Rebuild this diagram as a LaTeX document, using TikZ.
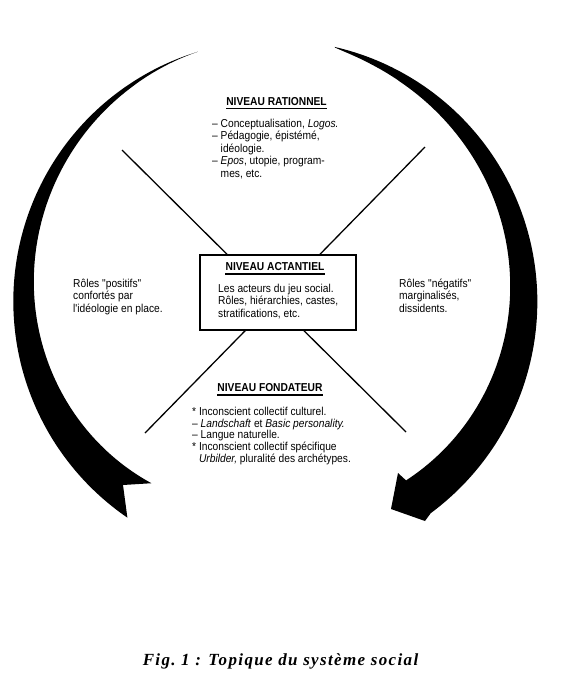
\documentclass[tikz,border=0pt]{standalone}
\usepackage{fontspec}
\newfontfamily\txtfont{Liberation Sans}[FakeStretch=0.89]
\newfontfamily\capfont{Liberation Serif}[LetterSpace=8]
\begin{document}
\begin{tikzpicture}[x=1pt,y=-1pt,
  body/.style={font={\txtfont\fontsize{11.5}{12.2}\selectfont}, inner sep=0pt, align=left, anchor=base west},
  head/.style={font={\txtfont\bfseries\fontsize{11.5}{12}\selectfont}, inner sep=0pt, anchor=base},
  uline/.style={line width=1.7pt},
  band/.style={fill=black},
  xline/.style={line width=1.3pt},
  boxframe/.style={draw, line width=1.8pt, fill=white, inner sep=0pt, minimum width=156pt, minimum height=75pt}
]
\useasboundingbox (0,0) rectangle (562,697);

% left band (tail, notched end)
\fill[band] plot[domain=0.002:1,samples=120] ({275+(260+3*\x)*cos(107+129*\x)},{300-(260+3*\x)*sin(107+129*\x)})
  -- (123,485)
  -- plot[domain=1:0.002,samples=120] ({275+(260+3*\x-42*pow(\x,1.2))*cos(107+129*\x)},{300-(260+3*\x-42*pow(\x,1.2))*sin(107+129*\x)})
  -- cycle;

% right band (with arrow head)
\fill[band] plot[domain=0.002:1,samples=120] ({275+(260+4*\x)*cos(77-131*\x)},{300-(260+4*\x)*sin(77-131*\x)})
  -- (425,521) -- (391,509) -- (398,473)
  -- plot[domain=1:0.002,samples=120] ({275+(260+4*\x-41*pow(\x,0.75))*cos(77-131*\x)},{300-(260+4*\x-41*pow(\x,0.75))*sin(77-131*\x)})
  -- cycle;

% the cross
\coordinate (ul) at (122,150);
\coordinate (lr) at (406,432);
\coordinate (ur) at (425,147);
\coordinate (ll) at (145,433);
\draw[xline] (ul) -- (lr);
\draw[xline] (ur) -- (ll);

% central box
\node[boxframe] (box) at (278,292.5) {};

% Niveau rationnel
\node[head] (hr) at (276.5,105) {NIVEAU RATIONNEL};
\draw[uline] ([yshift=-3.5pt]hr.base west) -- ([yshift=-3.5pt]hr.base east);
\node[body, font={\txtfont\fontsize{11.5}{12.4}\selectfont}] (tr) at (212,177) {– Conceptualisation, \textit{Logos.}\\
– Pédagogie, épistémé,\\
\hphantom{– }idéologie.\\
– \textit{Epos}, utopie, program-\\
\hphantom{– }mes, etc.};

% Niveau actantiel
\node[head] (ha) at (275,270.7) {NIVEAU ACTANTIEL};
\draw[uline] ([yshift=-3pt]ha.base west) -- ([yshift=-3pt]ha.base east);
\node[body] (ta) at (218,317) {Les acteurs du jeu social.\\
Rôles, hiérarchies, castes,\\
stratifications, etc.};

% Niveau fondateur
\node[head] (hf) at (270,391.7) {NIVEAU FONDATEUR};
\draw[uline] ([yshift=-3.3pt]hf.base west) -- ([yshift=-3.3pt]hf.base east);
\node[body, font={\txtfont\fontsize{11.5}{11.7}\selectfont}] (tf) at (192,462.3) {* Inconscient collectif culturel.\\
– \textit{Landschaft} et \textit{Basic personality.}\\
– Langue naturelle.\\
* Inconscient collectif spécifique\\
\hphantom{* }\textit{Urbilder,} pluralité des archétypes.};

% side texts
\node[body] (pos) at (73,312) {Rôles "positifs"\\
confortés par\\
l'idéologie en place.};
\node[body] (neg) at (399,312) {Rôles "négatifs"\\
marginalisés,\\
dissidents.};

% caption
\node[font={\capfont\itshape\bfseries\fontsize{17}{20}\selectfont}, inner sep=0pt, anchor=base] (cap) at (280.5,665) {Fig.\ 1 : Topique du système social};
\end{tikzpicture}
\end{document}
